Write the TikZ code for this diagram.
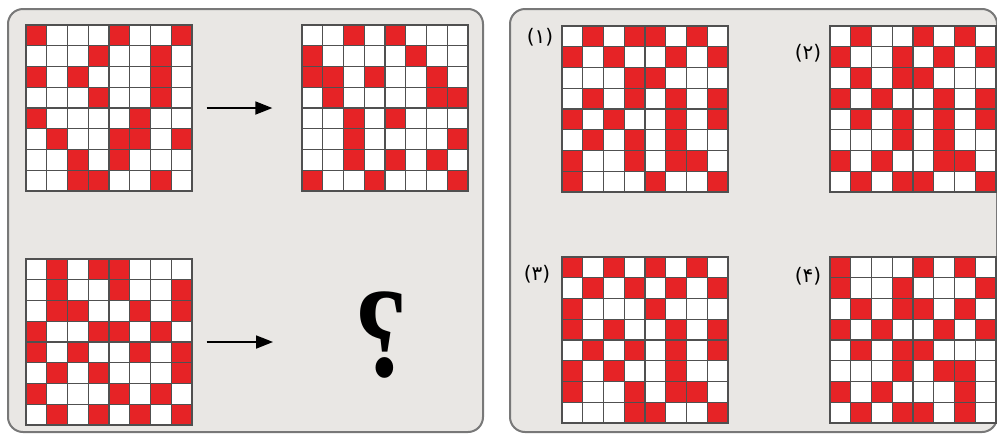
\documentclass[tikz,border=0pt]{standalone}
\usepackage{fontspec}
\newfontfamily\arabicfont[Script=Arabic]{DejaVu Sans}
\newfontfamily\qfont{Liberation Serif}
\usetikzlibrary{arrows.meta}
\definecolor{cellred}{RGB}{230,35,38}
\definecolor{panelfill}{RGB}{233,231,228}
\definecolor{panelline}{RGB}{120,120,120}
\definecolor{gridgray}{RGB}{80,80,80}
\tikzset{
  panel/.style={draw=panelline,fill=panelfill,line width=2pt,rounded corners=15pt},
  gridln/.style={draw=gridgray,line width=1.1pt},
  gridframe/.style={draw=gridgray,line width=1.3pt,rectangle,minimum size=166pt,inner sep=0pt},
  arr/.style={draw=black,line width=1.8pt,-{Triangle[length=17pt,width=13pt]}},
  optlabel/.style={font=\arabicfont\fontsize{20}{20}\selectfont,inner sep=0pt},
  qmark/.style={font=\qfont\bfseries\fontsize{128}{128}\selectfont,inner sep=0pt,xscale=-0.85}
}
\newcommand\puzzlegrid[4]{%
  \begin{scope}[shift={(#2,#3)}]
    \fill[white] (0,0) rectangle (166,166);
    \foreach \row [count=\r] in {#4}{%
      \foreach \c [count=\k] in \row {%
        \ifnum\c=1 \fill[cellred] ({(\k-1)*20.75},{(\r-1)*20.75}) rectangle ++(20.75,20.75);\fi
      }}
    \foreach \i in {1,...,7}{\draw[gridln] (\i*20.75,0) -- (\i*20.75,166); \draw[gridln] (0,\i*20.75) -- (166,\i*20.75);}
  \end{scope}
  \node[gridframe] (#1) at (#2+83,#3+83) {};
}
\begin{document}
\begin{tikzpicture}[x=1pt,y=-1pt]
\useasboundingbox (0,0) rectangle (997,437);
\fill[white] (0,0) rectangle (997,437);
\draw[panel] (8,9) rectangle (483,432);
\draw[panel] (510,9) rectangle (997,432);

\puzzlegrid{g1}{26}{25}{{1,0,0,0,1,0,0,1},{0,0,0,1,0,0,1,0},{1,0,1,0,0,0,1,0},{0,0,0,1,0,0,1,0},{1,0,0,0,0,1,0,0},{0,1,0,0,1,1,0,1},{0,0,1,0,1,0,0,0},{0,0,1,1,0,0,1,0}}
\puzzlegrid{g2}{302}{25}{{0,0,1,0,1,0,0,0},{1,0,0,0,0,1,0,0},{1,1,0,1,0,0,1,0},{0,1,0,0,0,0,1,1},{0,0,1,0,1,0,0,0},{0,0,1,0,0,0,0,1},{0,0,1,0,1,0,1,0},{1,0,0,1,0,0,0,1}}
\puzzlegrid{g3}{26}{259}{{0,1,0,1,1,0,0,0},{0,1,0,0,1,0,0,1},{0,1,1,0,0,1,0,1},{1,0,0,1,1,0,1,0},{1,0,1,0,0,1,0,1},{0,1,0,1,0,0,0,1},{1,0,0,0,1,0,1,0},{0,1,0,1,0,1,0,1}}
\puzzlegrid{o1}{562}{26}{{0,1,0,1,1,0,1,0},{1,0,1,0,0,1,0,1},{0,0,0,1,1,0,0,0},{0,1,0,1,0,1,0,1},{1,0,1,0,0,1,0,1},{0,1,0,1,0,1,0,0},{1,0,0,1,0,1,1,0},{1,0,0,0,1,0,0,1}}
\puzzlegrid{o2}{830}{26}{{0,1,0,0,1,0,1,0},{1,0,0,1,0,1,0,1},{0,1,0,1,1,0,0,0},{1,0,1,0,0,1,0,1},{0,1,0,1,0,1,0,1},{0,0,0,1,0,1,0,0},{1,0,1,0,0,1,1,0},{0,1,0,1,1,0,0,1}}
\puzzlegrid{o3}{562}{257}{{1,0,1,0,1,0,1,0},{0,1,0,1,0,1,0,1},{1,0,0,0,1,0,0,0},{1,0,1,0,0,1,0,1},{0,1,0,1,0,1,0,1},{1,0,1,0,0,1,0,0},{1,0,0,1,0,1,1,0},{0,0,0,1,1,0,0,1}}
\puzzlegrid{o4}{830}{257}{{1,0,0,0,1,0,1,0},{1,0,0,1,0,0,0,1},{0,1,0,1,1,0,1,0},{1,0,1,0,0,1,0,1},{0,1,0,1,1,0,0,0},{0,0,0,1,0,1,1,0},{1,0,1,0,0,0,1,0},{0,1,0,1,1,0,1,0}}

\node[optlabel] (l1) at (540,37) {(۱)};
\node[optlabel] (l2) at (808,53) {(۲)};
\node[optlabel] (l3) at (537,274) {(۳)};
\node[optlabel] (l4) at (808,276) {(۴)};

\node[qmark] (q) at (381,335) {?};

\draw[arr,shorten <=14pt,shorten >=29pt] (g1.east) -- (g2.west);
\draw[arr,shorten <=14pt] (g3.east) -- ([xshift=-108pt]g3.east -| q.center);
\end{tikzpicture}
\end{document}
